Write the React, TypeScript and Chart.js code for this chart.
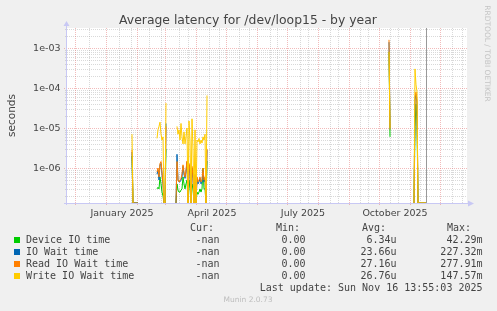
import React, { useEffect, useRef } from 'react';
import { Chart, registerables } from 'chart.js';

Chart.register(...registerables);

// ---------- texts ----------
const TITLE = 'Average latency for /dev/loop15 - by year';
const Y_LABEL = 'seconds';
const WATERMARK = 'RRDTOOL / TOBI OETIKER';
const LAST_UPDATE = 'Last update: Sun Nov 16 13:55:03 2025';
const FOOTER = 'Munin 2.0.73';

// ---------- axes (x in days since 1 Jan 2025) ----------
const X_MIN = -40;
const X_MAX = 360;
const Y_MIN = Math.pow(10, -6.875);
const Y_MAX = Math.pow(10, -2.5);
const yTickValues = [1e-3, 1e-4, 1e-5, 1e-6];
const yTickLabels = ['1e-03', '1e-04', '1e-05', '1e-06'];
const xTickDays = [16, 106, 197, 289];
const xTickLabels = ['January 2025', 'April 2025', 'July 2025', 'October 2025'];
const monthStartDays = [-31, 0, 31, 59, 90, 120, 151, 181, 212, 243, 273, 304, 334];
const minorGridDays = [-17, 13, 25, 43, 55, 73, 82, 103, 113, 133, 143, 164, 171, 194, 202, 224, 232, 254, 262, 284, 292, 314, 346, 356];
const nowDay = 320;

// ---------- legend ----------
const seriesNames = ['Device IO time', 'IO Wait time', 'Read IO Wait time', 'Write IO Wait time'];
const seriesColors = ['#00CC00', '#0066B3', '#FF8000', '#FFCC00'];
const curValues = ['-nan', '-nan', '-nan', '-nan'];
const minValues = ['0.00', '0.00', '0.00', '0.00'];
const avgValues = ['6.34u', '23.66u', '27.16u', '26.76u'];
const maxValues = ['42.29m', '227.32m', '277.91m', '147.57m'];

// ---------- data ----------
const N = null;
const days = [
  26, 27, 28, 29, 30, 31, 32, 33,
  51, 52, 53, 54, 55, 56, 57, 58, 59, 60, 61,
  70, 71, 72, 73, 74, 75, 76, 77, 78, 79, 80, 81, 82, 83, 84, 85, 86, 87, 88, 89, 90, 91, 92, 93, 94, 95, 96, 97, 98, 99, 100, 101, 102,
  283, 284, 285,
  308, 309, 310, 311, 312, 313, 314, 315, 316, 317, 318, 319, 320, 321,
];
const deviceIO = [
  2e-6, 0, 0, 0, 0, 0, 0, N,
  3e-7, 3.3e-7, 3e-7, 6e-7, 4e-7, 2.5e-7, 2e-7, 0, 0, 3e-6, N,
  0, 4e-7, 2.8e-7, 2.5e-7, 2.5e-7, 2.8e-7, 3e-7, 6e-7, 4e-7, 3e-7, 4e-7, 5e-7, 0, 5e-7, 3e-7, 0, 4e-7, 3e-7, 0, 3e-7, 0, 2.5e-7, 2.2e-7, 2.5e-7, 3e-7, 2.5e-7, 3e-7, 1e-6, 3e-7, 3e-7, 0, 1.5e-6, N,
  8e-4, 6e-6, N,
  0, 1.1e-5, 4e-5, 1.5e-5, 0, 0, 0, 0, 0, 0, 0, 0, 0, N,
];
const ioWait = [
  2.5e-6, 0, 0, 0, 0, 0, 0, N,
  7e-7, 9e-7, 5e-7, 1.2e-6, 1.3e-6, 7e-7, 4e-7, 0, 0, 1.3e-5, N,
  0, 2.2e-6, 5e-7, 4.5e-7, 4.5e-7, 5e-7, 6e-7, 1.1e-6, 7e-7, 5.5e-7, 8e-7, 1.4e-6, 0, 1.2e-6, 7e-7, 0, 1e-6, 5.5e-7, 0, 6.5e-7, 0, 5.5e-7, 4e-7, 4.5e-7, 5.5e-7, 4e-7, 4.5e-7, 9e-7, 4.5e-7, 5.5e-7, 0, 2.8e-6, N,
  1.4e-3, 9e-6, N,
  0, 5e-5, 7e-5, 4e-5, 0, 0, 0, 0, 0, 0, 0, 0, 0, N,
];
const readWait = [
  2.8e-6, 0, 0, 0, 0, 0, 0, N,
  8e-7, 1e-6, 6e-7, 1.3e-6, 1.45e-6, 8e-7, 4e-7, 0, 0, 1.1e-5, N,
  0, 1.45e-6, 5e-7, 4.5e-7, 5e-7, 5.5e-7, 7e-7, 1.2e-6, 8e-7, 6e-7, 9e-7, 1.5e-6, 0, 1.3e-6, 8e-7, 0, 1.1e-6, 6e-7, 0, 7e-7, 0, 6e-7, 4.5e-7, 5e-7, 6e-7, 4.5e-7, 5e-7, 1e-6, 5e-7, 6e-7, 0, 3e-6, N,
  1.6e-3, 1e-5, N,
  0, 6e-5, 8e-5, 5e-5, 0, 0, 0, 0, 0, 0, 0, 0, 0, N,
];
const writeWait = [
  7e-6, 0, N, N, N, N, N, N,
  5.5e-6, 9e-6, 1.1e-5, 1.4e-5, 7e-6, 5e-6, 6e-6, 0, 0, 4.2e-5, N,
  N, 1.1e-5, 7e-6, 9e-6, 5e-6, 1.3e-5, 6e-6, 4e-6, 8e-6, 4e-6, 6e-6, 1e-5, 0, 1.5e-5, 5e-6, 0, 1.7e-5, 3e-6, 0, 9e-6, 0, 5e-6, 4.5e-6, 5.5e-6, 4e-6, 5e-6, 4.2e-6, 6e-6, 5e-6, 7e-6, 0, 6.5e-5, N,
  8e-4, 9e-6, N,
  0, 3e-4, 1.2e-4, 8e-5, 0, 0, 0, 0, 0, 0, 0, 0, 0, N,
];

const W = 497;
const H = 311;
const BG = '#F0F0F0';
const MINOR = 'rgba(170,170,170,0.45)';
const MAJOR = 'rgba(230,120,120,0.5)';
const AXIS = '#C8C8F4';
const TEXT = '#444444';

function hline(ctx: CanvasRenderingContext2D, x1: number, x2: number, y: number) {
  ctx.beginPath();
  ctx.moveTo(x1, y);
  ctx.lineTo(x2, y);
  ctx.stroke();
}
function vline(ctx: CanvasRenderingContext2D, x: number, y1: number, y2: number) {
  ctx.beginPath();
  ctx.moveTo(x, y1);
  ctx.lineTo(x, y2);
  ctx.stroke();
}

const muninPlugin = {
  id: 'muninBackground',
  beforeDraw(chart: any) {
    const { ctx, chartArea: a, scales } = chart;
    const xs = scales.x;
    const ys = scales.y;
    ctx.save();
    ctx.fillStyle = BG;
    ctx.fillRect(0, 0, W, H);
    ctx.fillStyle = '#FFFFFF';
    ctx.fillRect(a.left, a.top, a.right - a.left + 1, a.bottom - a.top);
    ctx.lineWidth = 1;
    ctx.setLineDash([1, 1]);
    // minor grid
    ctx.strokeStyle = MINOR;
    for (let e = -7; e <= -3; e++) {
      for (let m = 2; m <= 9; m++) {
        const v = m * Math.pow(10, e);
        if (v < Y_MIN || v > Y_MAX) continue;
        const y = Math.round(ys.getPixelForValue(v)) + 0.5;
        hline(ctx, a.left - 1, a.right + 1, y);
      }
    }
    for (const d of minorGridDays) {
      const x = Math.round(xs.getPixelForValue(d)) + 0.5;
      vline(ctx, x, a.top, a.bottom + 1);
    }
    // major grid
    ctx.strokeStyle = MAJOR;
    for (const v of yTickValues) {
      const y = Math.round(ys.getPixelForValue(v)) + 0.5;
      hline(ctx, a.left - 2, a.right + 1, y);
    }
    for (const d of monthStartDays) {
      const x = Math.round(xs.getPixelForValue(d)) + 0.5;
      vline(ctx, x, a.top, a.bottom + 3);
    }
    ctx.restore();
  },
  afterDatasetsDraw(chart: any) {
    const { ctx, chartArea: a, scales } = chart;
    const xs = scales.x;
    const ys = scales.y;
    ctx.save();
    ctx.setLineDash([]);
    ctx.lineWidth = 1;
    // "now" rule
    ctx.strokeStyle = '#999999';
    const nx = Math.round(xs.getPixelForValue(nowDay)) + 0.5;
    vline(ctx, nx, a.top, a.bottom);

    // axes
    ctx.strokeStyle = AXIS;
    ctx.fillStyle = AXIS;
    const ax = a.left + 0.5;
    const ay = a.bottom + 0.5;
    vline(ctx, ax, a.bottom + 2, a.top - 3);
    hline(ctx, a.left - 2, a.right + 2, ay);
    ctx.beginPath();
    ctx.moveTo(ax - 3, a.top - 2);
    ctx.lineTo(ax + 3, a.top - 2);
    ctx.lineTo(ax, a.top - 7);
    ctx.closePath();
    ctx.fill();
    ctx.beginPath();
    ctx.moveTo(a.right + 2, ay - 3);
    ctx.lineTo(a.right + 2, ay + 3);
    ctx.lineTo(a.right + 8, ay);
    ctx.closePath();
    ctx.fill();

    // title
    ctx.fillStyle = TEXT;
    ctx.font = '12.4px "DejaVu Sans"';
    ctx.textAlign = 'center';
    ctx.textBaseline = 'alphabetic';
    ctx.fillText(TITLE, 248, 24);

    // y ticks
    ctx.font = '9.5px "DejaVu Sans"';
    ctx.textAlign = 'right';
    ctx.textBaseline = 'middle';
    yTickValues.forEach((v, i) => {
      ctx.fillText(yTickLabels[i], 60.5, ys.getPixelForValue(v) + 0.5);
    });
    // x ticks
    ctx.textAlign = 'center';
    ctx.textBaseline = 'alphabetic';
    xTickDays.forEach((d, i) => {
      ctx.fillText(xTickLabels[i], xs.getPixelForValue(d), 216);
    });

    // y label
    ctx.save();
    ctx.font = '10.5px "DejaVu Sans"';
    ctx.translate(15, (a.top + a.bottom) / 2);
    ctx.rotate(-Math.PI / 2);
    ctx.textAlign = 'center';
    ctx.textBaseline = 'alphabetic';
    ctx.fillText(Y_LABEL, 0, 0);
    ctx.restore();

    // watermark
    ctx.save();
    ctx.fillStyle = '#C4C4C4';
    ctx.font = '7.5px "DejaVu Sans"';
    ctx.translate(485, 53.5);
    ctx.rotate(Math.PI / 2);
    ctx.textAlign = 'center';
    ctx.textBaseline = 'alphabetic';
    ctx.fillText(WATERMARK, 0, 0);
    ctx.restore();

    // legend
    ctx.font = '10px "DejaVu Sans Mono"';
    ctx.textBaseline = 'alphabetic';
    ctx.fillStyle = TEXT;
    ctx.textAlign = 'left';
    ctx.fillText('Cur:', 190, 230.5);
    ctx.fillText('Min:', 276, 230.5);
    ctx.fillText('Avg:', 362, 230.5);
    ctx.fillText('Max:', 447, 230.5);
    seriesNames.forEach((name, i) => {
      const base = 242.5 + i * 12;
      ctx.fillStyle = seriesColors[i];
      ctx.fillRect(14, base - 5.5, 6, 6);
      ctx.fillStyle = TEXT;
      ctx.textAlign = 'left';
      ctx.fillText(name, 26, base);
      ctx.textAlign = 'right';
      ctx.fillText(curValues[i], 219.5, base);
      ctx.fillText(minValues[i], 305.5, base);
      ctx.fillText(avgValues[i], 396.5, base);
      ctx.fillText(maxValues[i], 482.5, base);
    });
    ctx.textAlign = 'right';
    ctx.fillText(LAST_UPDATE, 482.5, 290.5);

    ctx.font = '7.5px "DejaVu Sans"';
    ctx.fillStyle = '#BDBDBD';
    ctx.textAlign = 'center';
    ctx.fillText(FOOTER, 248, 302);
    ctx.restore();
  },
};

export default function App() {
  const ref = useRef<HTMLCanvasElement>(null);
  useEffect(() => {
    document.body.style.margin = '0';
    document.body.style.background = BG;
    const canvas = ref.current;
    if (!canvas) return;
    const seriesValues = [deviceIO, ioWait, readWait, writeWait];
    // zero readings sit on the floor of the log axis
    const toPlot = (v: number | null) => (v === 0 ? Y_MIN : v);
    const chart = new Chart(canvas, {
      type: 'line',
      data: {
        datasets: seriesValues.map((vals, i) => ({
          label: seriesNames[i],
          data: days.map((d, j) => ({ x: d, y: toPlot(vals[j]) })),
          borderColor: seriesColors[i],
          backgroundColor: seriesColors[i],
          borderWidth: 1,
          pointRadius: 0,
          pointHoverRadius: 0,
          tension: 0,
          fill: false,
          spanGaps: false,
          order: 4 - i,
        })),
      },
      options: {
        animation: false,
        responsive: false,
        maintainAspectRatio: false,
        events: [],
        layout: { padding: { left: 66, right: 31, top: 28, bottom: 108 } },
        scales: {
          x: { type: 'linear', display: false, min: X_MIN, max: X_MAX, bounds: 'data' },
          y: { type: 'logarithmic', display: false, min: Y_MIN, max: Y_MAX, bounds: 'data' },
        },
        plugins: {
          legend: { display: false },
          tooltip: { enabled: false },
          title: { display: false },
        },
      },
      plugins: [muninPlugin],
    } as any);
    return () => chart.destroy();
  }, []);
  return <canvas ref={ref} width={W} height={H} style={{ display: 'block', width: W, height: H }} />;
}
